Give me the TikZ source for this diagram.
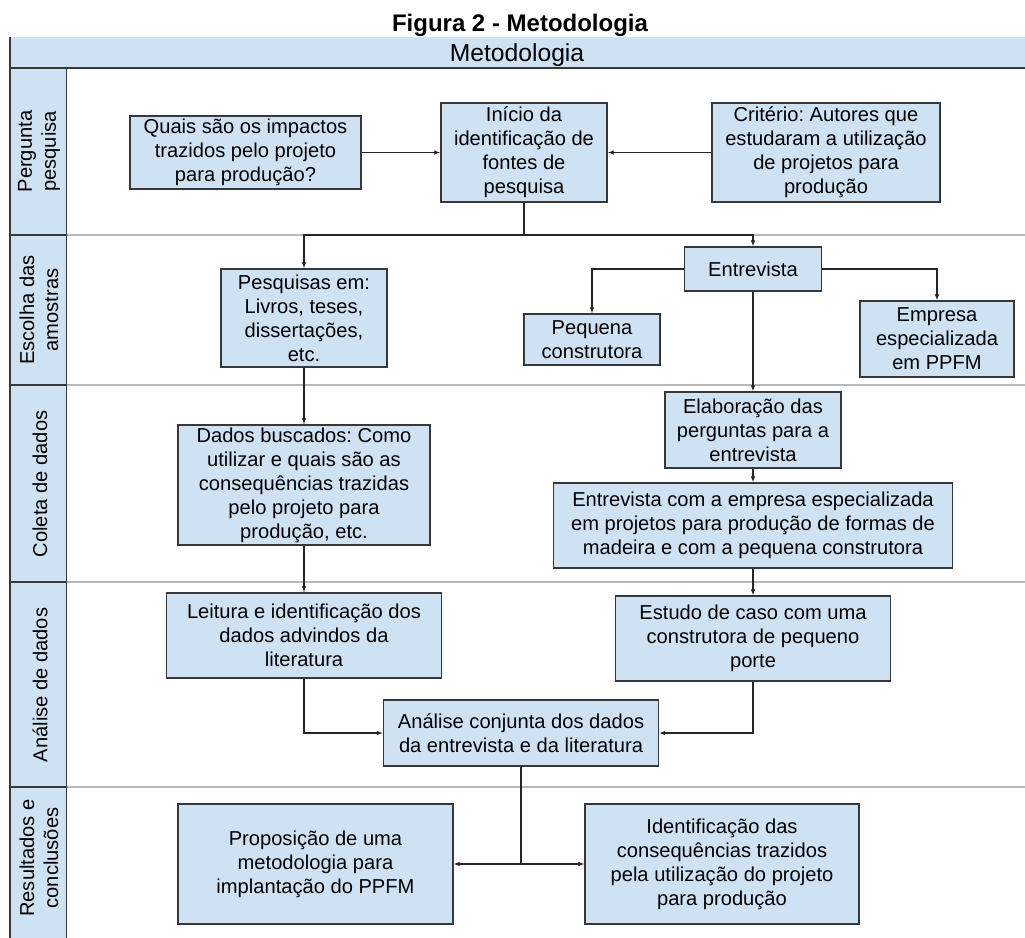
\documentclass[tikz,border=0pt]{standalone}
\usepackage{fontspec}
\setmainfont{Liberation Sans}
\usetikzlibrary{arrows.meta}
\definecolor{boxfill}{HTML}{CFE2F3}
\definecolor{boxline}{HTML}{383838}
\definecolor{lanegray}{HTML}{B8B8B8}
\definecolor{wire}{HTML}{262626}
\frenchspacing
\begin{document}
\begin{tikzpicture}[x=0.75pt,y=-0.75pt,
  stepbox/.style={draw=boxline, line width=1pt, fill=boxfill, align=center,
    inner sep=0pt, font=\fontsize{15.1}{18}\selectfont},
  boxsize/.style 2 args={minimum width=#1*0.75pt, minimum height=#2*0.75pt},
  lanelabel/.style={rotate=90, align=center, inner sep=0pt,
    font=\fontsize{15.1}{18}\selectfont},
  flow/.style={draw=wire, line width=0.95pt, -{Latex[length=4.5pt,width=3.6pt]}},
  link/.style={draw=wire, line width=0.95pt},
  lanesep/.style={draw=lanegray, line width=1.4pt},
  frame/.style={draw=boxline, line width=1pt}]
\useasboundingbox (0,0) rectangle (1025,938);

% swimlane frame
\fill[boxfill] (10,37) rectangle (1025,68);
\fill[boxfill] (10,68) rectangle (66.7,938);
\foreach \yy in {235,385,582,787}{
  \draw[lanesep] (66.7,\yy) -- (1025,\yy);
  \draw[frame] (10,\yy) -- (66.7,\yy);
}
\draw[frame] (10,37) -- (10,938);
\draw[frame] (10,68) -- (1025,68);
\draw[frame] (66.7,68) -- (66.7,938);

% titles
\node[anchor=base, inner sep=0pt, font=\bfseries\fontsize{18}{21}\selectfont] (title) at (520,32) {Figura 2 - Metodologia};
\node[anchor=base, inner sep=0pt, font=\fontsize{18.5}{21}\selectfont] (head) at (517,61.7) {Metodologia};

% lane labels
\node[lanelabel] (lane1) at (39,151.5) {Pergunta\\pesquisa};
\node[lanelabel] (lane2) at (39,310) {Escolha das\\amostras};
\node[lanelabel] (lane3) at (40,484) {Coleta de dados};
\node[lanelabel] (lane4) at (40,685) {Análise de dados};
\node[lanelabel] (lane5) at (39,858) {Resultados e\\conclusões};

% boxes
\node[stepbox, boxsize={231}{73}] (q) at (245.5,152.5) {Quais são os impactos\\trazidos pelo projeto\\para produção?};
\node[stepbox, boxsize={166}{99}] (ini) at (524,152.5) {Início da\\identificação de\\fontes de\\pesquisa};
\node[stepbox, boxsize={228}{99}] (crit) at (826,152.5) {Critério: Autores que\\estudaram a utilização\\de projetos para\\produção};

\node[stepbox, boxsize={166}{98}] (pesq) at (304,318) {Pesquisas em:\\Livros, teses,\\dissertações,\\etc.};
\node[stepbox, boxsize={137}{44}] (entr) at (753,269) {Entrevista};
\node[stepbox, boxsize={136}{51}] (peq) at (592,339.5) {Pequena\\construtora};
\node[stepbox, boxsize={154}{76}] (emp) at (937,339) {Empresa\\especializada\\em PPFM};

\node[stepbox, boxsize={252}{120}] (dados) at (304,485) {Dados buscados: Como\\utilizar e quais são as\\consequências trazidas\\pelo projeto para\\produção, etc.};
\node[stepbox, boxsize={176}{76}] (elab) at (753,430) {Elaboração das\\perguntas para a\\entrevista};
\node[stepbox, boxsize={399}{85}] (entc) at (753,525.5) {Entrevista com a empresa especializada\\em projetos para produção de formas de\\madeira e com a pequena construtora};

\node[stepbox, boxsize={275}{85}] (leit) at (304,635.5) {Leitura e identificação dos\\dados advindos da\\literatura};
\node[stepbox, boxsize={275}{85}] (est) at (753,638.5) {Estudo de caso com uma\\construtora de pequeno\\porte};
\node[stepbox, boxsize={275}{66}] (anal) at (521,733) {Análise conjunta dos dados\\da entrevista e da literatura};

\node[stepbox, boxsize={275}{120}] (prop) at (315.5,864) {Proposição de uma\\metodologia para\\implantação do PPFM};
\node[stepbox, boxsize={274}{120}] (ident) at (722,864) {Identificação das\\consequências trazidos\\pela utilização do projeto\\para produção};

% junction points
\coordinate (split1) at (524,235);
\coordinate (split2) at (521,864);

% connectors
\draw[flow] (q) -- (ini);
\draw[flow] (crit) -- (ini);
\draw[link] (ini) -- (split1);
\draw[flow] (split1) -| (pesq);
\draw[flow] (split1) -| (entr);
\draw[flow] (entr.west) -| (peq);
\draw[flow] (entr.east) -| (emp);
\draw[flow] (entr) -- (elab);
\draw[flow] (pesq) -- (dados);
\draw[flow] (elab) -- (entc);
\draw[flow] (dados) -- (leit);
\draw[flow] (entc) -- (est);
\draw[flow] (leit.south) |- (anal.west);
\draw[flow] (est.south) |- (anal.east);
\draw[link] (anal) -- (split2);
\draw[flow] (split2) -- (prop);
\draw[flow] (split2) -- (ident);
\end{tikzpicture}
\end{document}
